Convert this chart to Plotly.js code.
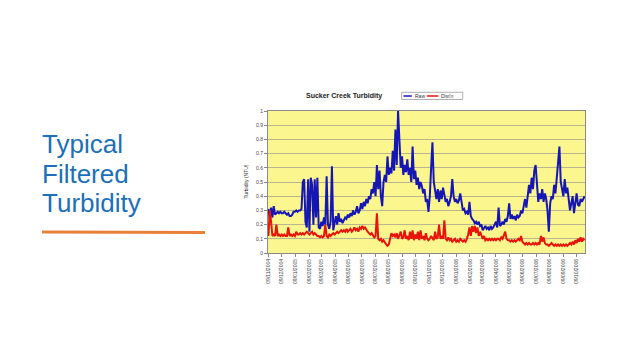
<!DOCTYPE html>
<html>
<head>
<meta charset="utf-8">
<script src="https://cdn.plot.ly/plotly-3.0.1.min.js"></script>
<style>
html,body{margin:0;padding:0;background:#fff;}
#chart{width:640px;height:360px;}
</style>
</head>
<body>
<div id="chart"></div>
<script>
// ---- Data ----
const startDate = '2004-11-09';   // first sample
const stepDays = 3;               // one reading kept every 3 days

const rawNTU = [
0.31,0.24,0.32,0.25,0.33,0.27,0.28,0.29,0.28,0.29,
0.28,0.28,0.29,0.28,0.27,0.28,0.26,0.26,0.27,0.29,
0.29,0.30,0.29,0.30,0.30,0.31,0.50,0.52,0.22,0.18,
0.52,0.15,0.53,0.48,0.20,0.52,0.25,0.53,0.18,0.17,
0.22,0.19,0.25,0.20,0.54,0.20,0.17,0.22,0.61,0.16,
0.22,0.26,0.20,0.28,0.22,0.24,0.21,0.23,0.25,0.24,
0.27,0.25,0.28,0.26,0.30,0.27,0.29,0.33,0.28,0.30,
0.35,0.31,0.36,0.33,0.38,0.35,0.40,0.38,0.45,0.42,
0.50,0.40,0.62,0.45,0.58,0.40,0.33,0.50,0.55,0.50,
0.68,0.55,0.60,0.56,0.72,0.58,0.87,0.62,1.00,0.80,
0.60,0.68,0.55,0.62,0.57,0.66,0.55,0.60,0.50,0.75,
0.52,0.58,0.48,0.53,0.45,0.50,0.47,0.42,0.45,0.36,
0.38,0.29,0.40,0.60,0.78,0.50,0.42,0.38,0.45,0.36,
0.44,0.38,0.46,0.40,0.36,0.38,0.33,0.36,0.40,0.52,
0.40,0.36,0.38,0.35,0.37,0.42,0.34,0.30,0.31,0.28,
0.29,0.27,0.36,0.26,0.24,0.23,0.21,0.22,0.20,0.22,
0.19,0.20,0.16,0.18,0.19,0.17,0.18,0.16,0.19,0.17,
0.18,0.20,0.22,0.18,0.32,0.19,0.20,0.22,0.20,0.24,
0.22,0.26,0.35,0.24,0.27,0.24,0.26,0.23,0.27,0.25,
0.26,0.30,0.28,0.33,0.38,0.32,0.40,0.48,0.42,0.53,
0.45,0.58,0.62,0.50,0.36,0.42,0.38,0.45,0.36,0.42,
0.38,0.30,0.15,0.35,0.40,0.38,0.48,0.42,0.55,0.62,
0.75,0.50,0.45,0.40,0.52,0.42,0.46,0.38,0.30,0.35,
0.40,0.28,0.36,0.42,0.34,0.33,0.38,0.36,0.38,0.40
];

const distNTU = [
0.12,0.30,0.22,0.12,0.13,0.12,0.20,0.12,0.13,0.12,
0.13,0.12,0.13,0.12,0.12,0.18,0.12,0.13,0.12,0.13,
0.12,0.15,0.13,0.13,0.14,0.13,0.14,0.13,0.14,0.15,
0.14,0.13,0.14,0.15,0.13,0.14,0.13,0.12,0.12,0.11,
0.12,0.11,0.12,0.20,0.12,0.11,0.13,0.12,0.13,0.14,
0.13,0.14,0.15,0.14,0.15,0.16,0.15,0.16,0.15,0.17,
0.15,0.16,0.17,0.15,0.16,0.18,0.16,0.17,0.15,0.18,
0.17,0.19,0.17,0.18,0.16,0.15,0.14,0.13,0.14,0.12,
0.11,0.12,0.28,0.10,0.09,0.10,0.08,0.09,0.07,0.06,
0.05,0.06,0.10,0.14,0.12,0.13,0.11,0.14,0.10,0.12,
0.15,0.10,0.11,0.16,0.10,0.12,0.09,0.15,0.10,0.16,
0.09,0.13,0.10,0.15,0.09,0.16,0.10,0.12,0.09,0.14,
0.10,0.09,0.10,0.12,0.10,0.09,0.15,0.10,0.11,0.20,
0.10,0.12,0.10,0.23,0.10,0.09,0.11,0.09,0.10,0.08,
0.09,0.10,0.08,0.09,0.08,0.10,0.09,0.08,0.09,0.08,
0.10,0.13,0.18,0.12,0.19,0.15,0.19,0.14,0.18,0.12,
0.15,0.12,0.10,0.12,0.09,0.10,0.09,0.10,0.09,0.10,
0.09,0.10,0.09,0.10,0.10,0.09,0.11,0.10,0.12,0.15,
0.10,0.09,0.09,0.08,0.09,0.08,0.09,0.08,0.09,0.10,
0.09,0.12,0.08,0.07,0.06,0.07,0.06,0.07,0.06,0.06,
0.07,0.06,0.07,0.06,0.07,0.06,0.12,0.08,0.11,0.07,
0.06,0.06,0.05,0.06,0.07,0.06,0.05,0.06,0.05,0.06,
0.05,0.06,0.05,0.06,0.05,0.06,0.05,0.06,0.07,0.06,
0.08,0.06,0.09,0.07,0.10,0.08,0.11,0.08,0.10,0.09
];

const seriesNames = ['Raw', "Dist'n"];
const chartTitle = 'Sucker Creek Turbidity';
const yTitle = 'Turbidity (NTU)';
const slideTitle = ['Typical', 'Filtered', 'Turbidity'];

// ---- build sample dates ----
function dateAt(i){
  const d = new Date(startDate + 'T00:00:00Z');
  d.setUTCDate(d.getUTCDate() + i*stepDays);
  return d.toISOString().slice(0,10);
}
const dates = rawNTU.map((_,i)=>dateAt(i));

// ---- layout geometry ----
const W=640,H=360, L=268, R=585, T=111, B=253;
const px = x => (x-L)/(R-L);
const py = y => (B-y)/(B-T);

const FONT = 'Liberation Sans, Arial, sans-serif';
const BLUE = '#1616b4', RED = '#e8140c';

const traces = [
  {x:dates, y:rawNTU, name:seriesNames[0], type:'scatter', mode:'lines',
   line:{color:BLUE, width:2}},
  {x:dates, y:distNTU, name:seriesNames[1], type:'scatter', mode:'lines',
   line:{color:RED, width:2}}
];

const layout = {
  width:W, height:H,
  margin:{l:L, r:W-R, t:T, b:H-B, pad:0},
  paper_bgcolor:'#ffffff',
  plot_bgcolor:'#fbf68e',
  showlegend:false,
  font:{family:FONT, color:'#333'},
  xaxis:{
    type:'date', range:['2004-11-08','2006-10-28'],
    tick0:'2004-11-09', dtick:'M1', tickformat:'%d/%m/%Y',
    tickangle:-90, tickfont:{size:5, color:'#444'},
    ticks:'outside', ticklen:3, tickcolor:'#888',
    showgrid:false, zeroline:false,
    showline:true, linecolor:'#8a8a8a', linewidth:1, mirror:true
  },
  yaxis:{
    range:[0,1], dtick:0.1, tick0:0,
    tickfont:{size:5, color:'#444'},
    ticks:'outside', ticklen:3, tickcolor:'#888',
    showgrid:true, gridcolor:'#a9a690', gridwidth:0.8,
    zeroline:false,
    showline:true, linecolor:'#8a8a8a', linewidth:1, mirror:true
  },
  shapes:[
    // legend box
    {type:'rect', xref:'paper', yref:'paper', x0:px(401.7), x1:px(462.7), y0:py(99.5), y1:py(92.3),
     line:{color:'#999', width:0.8}, fillcolor:'#ffffff'},
    {type:'line', xref:'paper', yref:'paper', x0:px(403.5), x1:px(411.8), y0:py(96), y1:py(96),
     line:{color:BLUE, width:1.5}},
    {type:'line', xref:'paper', yref:'paper', x0:px(426.8), x1:px(438.3), y0:py(96), y1:py(96),
     line:{color:RED, width:1.5}},
    // orange underline on slide
    {type:'line', xref:'paper', yref:'paper', x0:px(42), x1:px(205), y0:py(232), y1:py(232.5),
     line:{color:'#e8803a', width:3}}
  ],
  annotations:[
    {text:'<b>'+chartTitle+'</b>', xref:'paper', yref:'paper', x:px(343.5), y:py(96), xanchor:'center', yanchor:'middle',
     showarrow:false, font:{size:7, family:FONT, color:'#222'}},
    {text:seriesNames[0], xref:'paper', yref:'paper', x:px(412.8), y:py(96), xanchor:'left', yanchor:'middle',
     showarrow:false, font:{size:5, family:FONT, color:'#333'}},
    {text:seriesNames[1], xref:'paper', yref:'paper', x:px(439.3), y:py(96), xanchor:'left', yanchor:'middle',
     showarrow:false, font:{size:5, family:FONT, color:'#333'}},
    {text:yTitle, xref:'paper', yref:'paper', x:px(245.5), y:0.5, textangle:-90,
     xanchor:'center', yanchor:'middle', showarrow:false, font:{size:5, family:FONT, color:'#333'}},
    {text:slideTitle[0], xref:'paper', yref:'paper', x:px(39.5), y:py(144), xanchor:'left', yanchor:'middle',
     showarrow:false, font:{size:26, family:FONT, color:'#1d6fb8'}},
    {text:slideTitle[1], xref:'paper', yref:'paper', x:px(39.5), y:py(174), xanchor:'left', yanchor:'middle',
     showarrow:false, font:{size:26, family:FONT, color:'#1d6fb8'}},
    {text:slideTitle[2], xref:'paper', yref:'paper', x:px(39.5), y:py(202.5), xanchor:'left', yanchor:'middle',
     showarrow:false, font:{size:26, family:FONT, color:'#1d6fb8'}}
  ]
};

Plotly.newPlot('chart', traces, layout, {staticPlot:true, displayModeBar:false});
</script>
</body>
</html>
